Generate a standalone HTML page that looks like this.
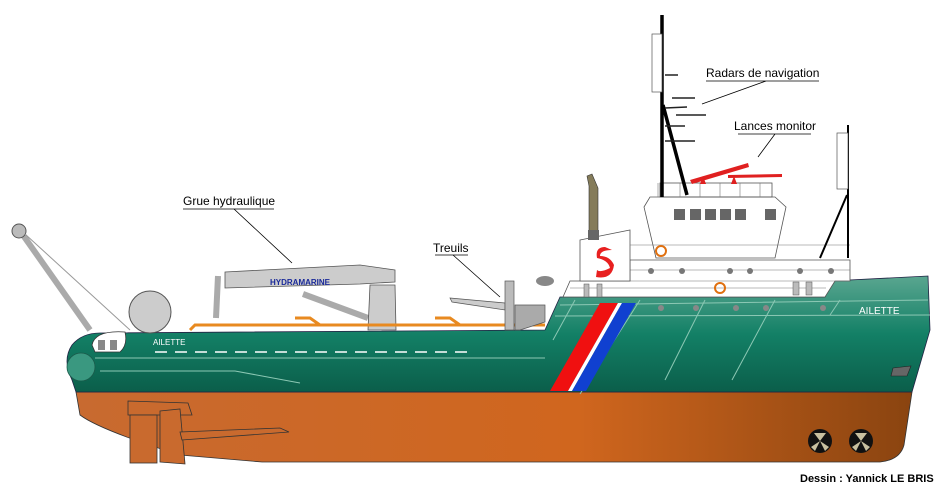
<!DOCTYPE html>
<html><head><meta charset="utf-8"><style>
html,body{margin:0;padding:0;background:#fff;width:950px;height:485px;overflow:hidden}
svg{display:block}
text{font-family:"Liberation Sans",sans-serif}
</style></head><body>
<svg width="950" height="485" viewBox="0 0 950 485" xmlns="http://www.w3.org/2000/svg">
<defs>
<linearGradient id="g" x1="0" y1="0" x2="0" y2="1"><stop offset="0" stop-color="#5aa690"/><stop offset="0.5" stop-color="#138066"/><stop offset="1" stop-color="#0b5e4a"/></linearGradient>
<linearGradient id="o" x1="0" y1="0" x2="1" y2="0"><stop offset="0" stop-color="#c86a30"/><stop offset="0.6" stop-color="#d0661e"/><stop offset="1" stop-color="#8a4410"/></linearGradient>
</defs>
<path d="M76,392 L912,392 L904,445 Q900,460 880,462 L262,462 L180,455 Q100,430 80,415 Z" fill="url(#o)" stroke="#333" stroke-width="0.8"/>
<path d="M128,401 L188,403 L192,415 L128,415Z" fill="#c96a2e" stroke="#333" stroke-width="0.8"/>
<rect x="130" y="415" width="27" height="48" fill="#c96a2e" stroke="#333" stroke-width="0.8"/>
<path d="M160,411 L180,409 L185,464 L160,462Z" fill="#c96a2e" stroke="#333" stroke-width="0.8"/>
<path d="M180,432 L280,428 L289,432 L182,440Z" fill="#c96a2e" stroke="#333" stroke-width="0.8"/>
<g fill="#111"><circle cx="820" cy="441" r="12"/><circle cx="861" cy="441" r="12"/></g>
<g fill="#c8c0a0"><path d="M820,441 l-6,-8 h12z M820,441 l-9,6 l4,4z M820,441 l9,6 l-4,4z"/><path d="M861,441 l-6,-8 h12z M861,441 l-9,6 l4,4z M861,441 l9,6 l-4,4z"/></g>
<path d="M100,333 L545,330 L560,297 L825,297 L830,281 L928,276 L930,330 L912,392 L76,392 L72,380 Q62,360 72,345 Q82,333 100,333Z" fill="url(#g)" stroke="#224" stroke-width="0.8"/>
<circle cx="81" cy="367" r="14" fill="#3a9880" stroke="#1a5a4a" stroke-width="0.8"/>
<path d="M92,345 Q95,330 125,332 Q128,345 120,352 L95,352Z" fill="#fff" stroke="#333" stroke-width="0.8"/>
<rect x="98" y="340" width="7" height="10" fill="#888"/><rect x="110" y="340" width="7" height="10" fill="#888"/>
<line x1="155" y1="352" x2="470" y2="352" stroke="#fff" stroke-width="1.5" stroke-dasharray="12,8"/>
<line x1="95" y1="358" x2="545" y2="358" stroke="#8cc8b4" stroke-width="1"/>
<path d="M100,371 L235,371 L300,383" stroke="#8cc8b4" fill="none"/>
<path d="M560,305 L928,300 M555,316 L930,315" stroke="#8cc8b4" fill="none"/>
<path d="M575,300 L553,340 M640,300 L580,394 M705,300 L665,380 M775,300 L732,380 M840,300 L830,315" stroke="#8cc8b4" fill="none"/>
<polygon points="600,303 618,303 568,391 550,391" fill="#f01010"/>
<polygon points="618,303 622,303 572,391 568,391" fill="#fff"/>
<polygon points="622,303 636,303 586,391 572,391" fill="#1040d0"/>
<polygon points="893,368 911,366 907,376 891,376" fill="#666" stroke="#222" stroke-width="0.6"/>
<g fill="#888"><circle cx="661" cy="308" r="3"/><circle cx="696" cy="308" r="3"/><circle cx="736" cy="308" r="3"/><circle cx="766" cy="308" r="3"/><circle cx="823" cy="308" r="3"/></g>
<text x="859" y="314" fill="#fff" font-size="10">AILETTE</text>
<text x="153" y="345" fill="#fff" font-size="8">AILETTE</text>
<path d="M563,297 L570,281 L630,281 L630,260 L850,260 L850,281 L835,281 L825,297Z" fill="#fff" stroke="#555" stroke-width="0.8"/>
<path d="M570,281 L850,281 M630,270 L850,270 M570,288 L826,288" stroke="#777" stroke-width="0.6"/>
<g fill="#777"><circle cx="651" cy="271" r="3"/><circle cx="682" cy="271" r="3"/><circle cx="730" cy="271" r="3"/><circle cx="750" cy="271" r="3"/><circle cx="800" cy="271" r="3"/><circle cx="831" cy="271" r="3"/></g>
<rect x="584" y="284" width="5" height="13" fill="#bbb" stroke="#555" stroke-width="0.5"/><rect x="597" y="284" width="5" height="13" fill="#bbb" stroke="#555" stroke-width="0.5"/>
<rect x="793" y="282" width="6" height="13" fill="#bbb" stroke="#555" stroke-width="0.5"/><rect x="806" y="282" width="6" height="13" fill="#bbb" stroke="#555" stroke-width="0.5"/>
<path d="M580,240 L630,230 L630,281 L580,281Z" fill="#fff" stroke="#555" stroke-width="0.8"/>
<path d="M605,247 Q595,247 597,258 Q608,260 610,268 Q600,273 597,270 L596,277 Q612,280 614,265 Q610,256 600,256 Q600,250 612,250Z" fill="#e82020"/>
<path d="M587,176 L592,174 L598,188 L598,232 L589,232 L589,186Z" fill="#857c5a" stroke="#333" stroke-width="0.6"/>
<rect x="588" y="230" width="11" height="10" fill="#666"/>
<path d="M644,207 L650,197 L775,197 L786,207 L775,258 L656,258Z" fill="#fff" stroke="#555" stroke-width="0.8"/>
<g fill="#666"><rect x="674" y="209" width="11" height="11"/><rect x="690" y="209" width="11" height="11"/><rect x="705" y="209" width="11" height="11"/><rect x="720" y="209" width="11" height="11"/><rect x="735" y="209" width="11" height="11"/><rect x="765" y="209" width="11" height="11"/></g>
<rect x="660" y="183" width="112" height="14" fill="none" stroke="#555" stroke-width="0.8"/>
<path d="M630,245 L850,245 M658,183 v14 M680,183 v14 M700,183 v14 M720,183 v14 M740,183 v14 M760,183 v14" stroke="#777" stroke-width="0.6"/>
<circle cx="661" cy="251" r="5" fill="none" stroke="#e07010" stroke-width="2"/>
<circle cx="720" cy="288" r="5" fill="none" stroke="#e07010" stroke-width="2"/>
<path d="M690,180 L748,163 L749,167 L692,184Z M728,175 L782,174 L782,177 L728,178Z" fill="#e02020"/>
<path d="M700,184 l3,-8 l3,8z M731,184 l3,-8 l3,8z" fill="#e02020"/>
<path d="M662,15 L662,197 M663,105 L687,195" stroke="#000" stroke-width="3.5" fill="none"/>
<rect x="652" y="34" width="10" height="58" fill="#fff" stroke="#555" stroke-width="0.7"/>
<path d="M665,108 L687,107 M665,126 L685,126 M665,141 L695,141 M672,98 L695,98 M676,115 L706,115 M665,75 L678,75" stroke="#222" stroke-width="1.5"/>
<path d="M848,125 L848,258 M847,195 L820,258" stroke="#000" stroke-width="2" fill="none"/>
<rect x="837" y="133" width="11" height="56" fill="#fff" stroke="#555" stroke-width="0.7"/>
<path d="M225,272 L360,265 L395,270 L395,282 L360,284 L225,288Z" fill="#ccc" stroke="#555" stroke-width="0.8"/>
<text x="270" y="285" fill="#1a2a9a" font-size="8" font-weight="bold">HYDRAMARINE</text>
<path d="M218,276 L216,318 M303,294 L368,318" stroke="#aaa" stroke-width="6"/>
<path d="M370,285 L395,285 L396,330 L368,330Z" fill="#ccc" stroke="#555" stroke-width="0.8"/>
<path d="M190,330 L195,325 L545,325" stroke="#e88a20" stroke-width="3" fill="none"/>
<path d="M295,318 L310,318 L320,325 M435,318 L450,318 L460,325" stroke="#e88a20" stroke-width="3" fill="none"/>
<path d="M18,228 L90,330" stroke="#aaa" stroke-width="6"/>
<circle cx="19" cy="231" r="7" fill="#bbb" stroke="#555"/>
<line x1="25" y1="234" x2="130" y2="330" stroke="#999"/>
<circle cx="150" cy="312" r="21" fill="#ccc" stroke="#555"/>
<path d="M450,298 L505,303 L505,310 L452,302Z" fill="#ccc" stroke="#555" stroke-width="0.7"/>
<rect x="505" y="281" width="9" height="49" fill="#bbb" stroke="#555" stroke-width="0.7"/>
<path d="M515,305 L545,305 L545,322 L520,330 L515,330Z" fill="#aaa" stroke="#555" stroke-width="0.7"/>
<ellipse cx="545" cy="281" rx="9" ry="5" fill="#888"/>
<g font-size="12" fill="#000">
<text x="183" y="205">Grue hydraulique</text>
<text x="433" y="252">Treuils</text>
<text x="706" y="77">Radars de navigation</text>
<text x="734" y="130">Lances monitor</text>
</g>
<g stroke="#000" stroke-width="0.8" fill="none">
<path d="M183,209 H274 M234,209 L292,263"/>
<path d="M435,255 H468 M453,255 L500,297"/>
<path d="M706,81 H819 M766,81 L702,104"/>
<path d="M738,134 H811 M775,134 L758,157"/>
</g>
<text x="800" y="482" font-size="11" font-weight="bold" fill="#000">Dessin : Yannick LE BRIS</text>
</svg>
</body></html>
